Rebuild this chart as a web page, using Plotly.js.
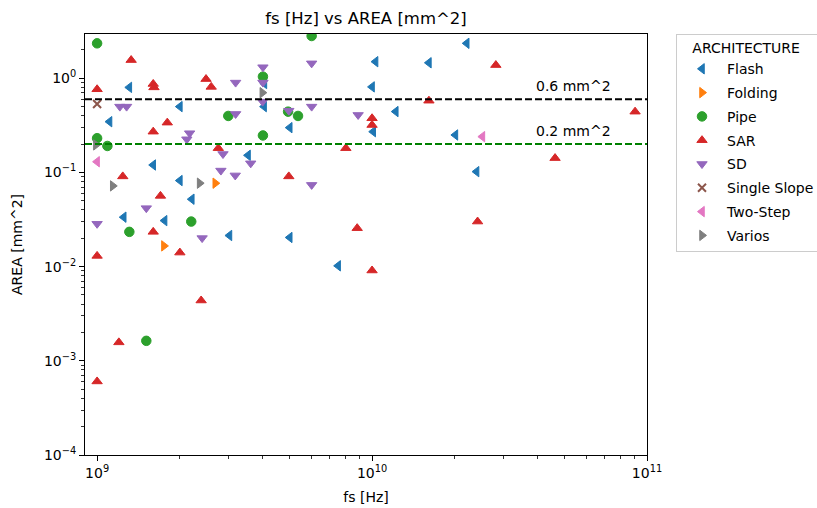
<!DOCTYPE html>
<html>
<head>
<meta charset="utf-8">
<script src="https://cdn.plot.ly/plotly-3.0.1.min.js"></script>
<style>html,body{margin:0;padding:0;background:#fff;}#chart{width:817px;height:508px;}</style>
</head>
<body>
<div id="chart"></div>
<script>
// ---- data (fs in Hz, area in mm^2) ----
const flashX = [1.31e9, 2.0e9, 1.11e9, 1.6e9, 2.0e9, 2.21e9, 1.25e9, 1.76e9, 3.03e9, 3.54e9, 4.06e9, 4.05e9, 2.21e10, 1.03e10, 1.61e10, 1.0e10, 1.22e10, 5.02e9, 1.01e10, 2.01e10, 2.40e10, 5.02e9, 7.53e9];
const flashY = [0.80, 0.50, 0.346, 0.12, 0.082, 0.052, 0.0335, 0.0308, 0.0214, 0.152, 0.88, 0.50, 2.35, 1.50, 1.46, 0.81, 0.443, 0.299, 0.271, 0.250, 0.102, 0.0204, 0.0102];

const foldingX = [2.69e9, 1.75e9];
const foldingY = [0.0769, 0.0166];

const pipeX = [1.0e9, 1.0e9, 1.09e9, 1.31e9, 1.51e9, 2.20e9, 3.0e9, 4.01e9, 4.01e9, 4.95e9, 5.38e9, 6.03e9];
const pipeY = [2.35, 0.231, 0.191, 0.0234, 0.00163, 0.0301, 0.398, 1.04, 0.247, 0.442, 0.398, 2.81];

const sarX = [1.0e9, 1.33e9, 1.6e9, 1.61e9, 1.6e9, 1.80e9, 2.49e9, 2.60e9, 2.76e9, 1.24e9, 1.70e9, 1.6e9, 2.0e9, 1.0e9, 2.39e9, 1.2e9, 1.0e9, 4.98e9, 8.03e9, 1.0e10, 1.0e10, 8.83e9, 1.0e10, 1.61e10, 2.82e10, 2.42e10, 4.63e10, 9.05e10];
const sarY = [0.764, 1.56, 0.87, 0.80, 0.271, 0.338, 0.98, 0.81, 0.181, 0.0908, 0.0564, 0.0234, 0.0141, 0.013, 0.00437, 0.00157, 0.000604, 0.0908, 0.181, 0.376, 0.319, 0.0256, 0.0091, 0.578, 1.38, 0.0301, 0.142, 0.442];

const sdX = [1.0e9, 1.21e9, 1.28e9, 1.51e9, 2.17e9, 2.12e9, 2.87e9, 2.82e9, 3.18e9, 3.62e9, 2.41e9, 3.19e9, 3.19e9, 4.01e9, 4.01e9, 4.0e9, 4.98e9, 6.03e9, 6.03e9, 6.03e9, 8.9e9];
const sdY = [0.0285, 0.50, 0.50, 0.0418, 0.261, 0.225, 0.157, 0.1047, 0.093, 0.125, 0.0201, 0.90, 0.418, 1.31, 0.90, 0.565, 0.453, 1.44, 0.50, 0.0738, 0.408];

const singleSlopeX = [1.0e9];
const singleSlopeY = [0.534];

const twoStepX = [1.0e9, 2.52e10];
const twoStepY = [0.130, 0.240];

const variosX = [0.99e9, 1.14e9, 2.36e9, 3.99e9];
const variosY = [0.196, 0.072, 0.0769, 0.703];

const categories = ["Flash", "Folding", "Pipe", "SAR", "SD", "Single Slope", "Two-Step", "Varios"];
const refLevels = [0.6, 0.2];
const refLabels = ["0.6 mm^2", "0.2 mm^2"];
const refLabelX = 3.87e10;

const xTickVals = [1e9, 1e10, 1e11];
const xTickText = ["10<sup>9</sup>", "10<sup>10</sup>", "10<sup>11</sup>"];
const yTickVals = [1e-4, 1e-3, 1e-2, 1e-1, 1];
const yTickText = ["10<sup>\u22124</sup>", "10<sup>\u22123</sup>", "10<sup>\u22122</sup>", "10<sup>\u22121</sup>", "10<sup>0</sup>"];

// ---- styles ----
const xs = [flashX, foldingX, pipeX, sarX, sdX, singleSlopeX, twoStepX, variosX];
const ys = [flashY, foldingY, pipeY, sarY, sdY, singleSlopeY, twoStepY, variosY];
const colors = ["#1f77b4", "#ff7f0e", "#2ca02c", "#d62728", "#9467bd", "#8c564b", "#e377c2", "#7f7f7f"];
const symbols = ["triangle-left", "triangle-right", "circle", "triangle-up", "triangle-down", "x-thin", "triangle-left", "triangle-right"];
const sizes = [9, 9, 9.5, 9, 9, 8, 9, 9];

const FONT = "DejaVu Sans, sans-serif";

const traces = categories.map((name, i) => {
  const m = {color: colors[i], symbol: symbols[i], size: sizes[i],
             line: {color: colors[i], width: symbols[i] === "x-thin" ? 2 : 1}};
  return {type: "scatter", mode: "markers", name: name, x: xs[i], y: ys[i],
          legendgroup: name, marker: m, cliponaxis: true};
});

const refColors = ["#000000", "#008000"];
const shapes = refLevels.map((v, i) => ({
  type: "line", xref: "paper", x0: 0, x1: 1, yref: "y", y0: v, y1: v,
  line: {color: refColors[i], width: 2, dash: "7px,3px"}, layer: "above"
}));
const annotations = refLevels.map((v, i) => ({
  xref: "x", yref: "y", x: Math.log10(refLabelX), y: Math.log10(v),
  text: refLabels[i], showarrow: false, xanchor: "left", yanchor: "bottom", yshift: 3,
  font: {family: FONT, size: 14, color: "#000"}
}));

const axisCommon = {
  type: "log", showgrid: false, zeroline: false, showline: true, mirror: true,
  linecolor: "#000", linewidth: 1, ticks: "outside", ticklen: 5, tickwidth: 1, tickcolor: "#000",
  tickfont: {family: FONT, size: 14, color: "#000"}, tickmode: "array",
  minor: {ticks: "outside", ticklen: 3, tickwidth: 0.8, tickcolor: "#000", dtick: "D1", showgrid: false}
};

const layout = {
  width: 817, height: 508,
  margin: {l: 85, r: 170, t: 34, b: 53, autoexpand: false},
  paper_bgcolor: "#fff", plot_bgcolor: "#fff",
  font: {family: FONT, size: 14, color: "#000"},
  title: {text: "fs [Hz] vs AREA [mm^2]", x: 0.5, xref: "paper", y: 1 - 18 / 508, yref: "container",
          yanchor: "middle", font: {family: FONT, size: 16.5, color: "#000"}},
  xaxis: Object.assign({}, axisCommon, {
    range: [8.956, 11], tickvals: xTickVals, ticktext: xTickText,
    title: {text: "fs [Hz]", font: {family: FONT, size: 14, color: "#000"}, standoff: 12}
  }),
  yaxis: Object.assign({}, axisCommon, {
    range: [-4, 0.47], tickvals: yTickVals, ticktext: yTickText,
    title: {text: "AREA [mm^2]", font: {family: FONT, size: 14, color: "#000"}, standoff: 18}
  }),
  showlegend: true,
  legend: {
    xref: "container", x: 676 / 817, xanchor: "left", y: 1 - 34 / 508, yref: "container", yanchor: "top",
    bordercolor: "#cccccc", borderwidth: 1, bgcolor: "#fff",
    font: {family: FONT, size: 14, color: "#000"},
    title: {text: "&nbsp;&nbsp;&nbsp;ARCHITECTURE", font: {family: FONT, size: 14, color: "#000"}},
    traceorder: "grouped", tracegroupgap: 2.6, itemwidth: 40
  },
  shapes: shapes,
  annotations: annotations
};

Plotly.newPlot("chart", traces, layout, {displayModeBar: false, staticPlot: true});
</script>
</body>
</html>
